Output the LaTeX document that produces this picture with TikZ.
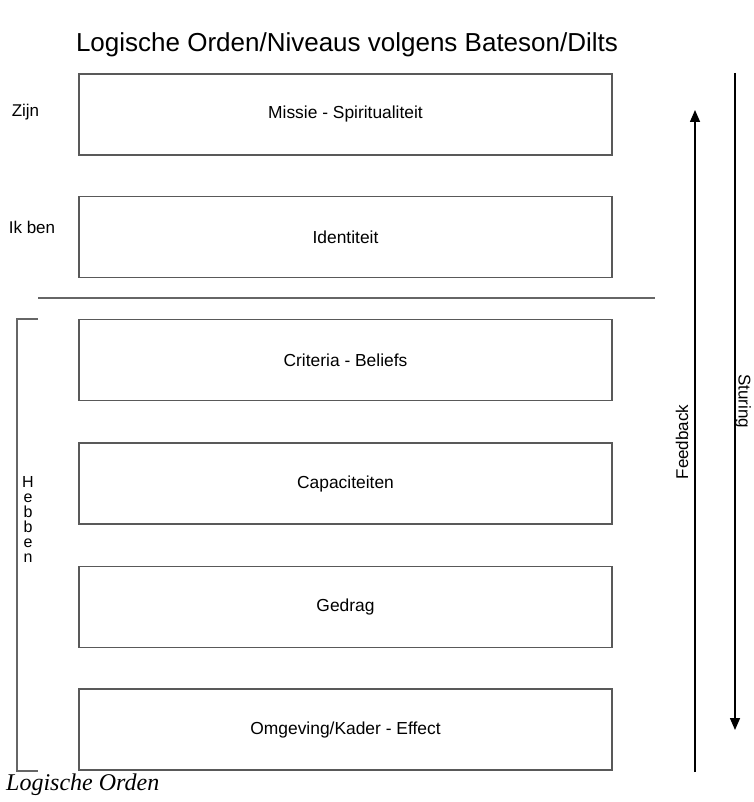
\documentclass[tikz,border=0pt]{standalone}
\usepackage{fontspec}
\setmainfont{Liberation Sans}
\newfontfamily\capserif{Liberation Serif}
\usetikzlibrary{arrows.meta}
\tikzset{
  levelbox/.style={draw=black!65, line width=1.4pt, minimum width=533pt, minimum height=81pt, inner sep=0pt,
    font=\fontsize{17.4}{20}\selectfont},
  sidelabel/.style={font=\fontsize{17}{20}\selectfont, inner sep=0pt},
  greyline/.style={draw=black!60, line width=1.4pt},
  flow/.style={draw=black, line width=1.5pt, -{Triangle[length=12pt,width=10pt]}},
}
\begin{document}
\begin{tikzpicture}[x=1pt,y=-1pt]
\path[use as bounding box] (0,0) rectangle (753,802);
\node[inner sep=0pt, anchor=base, font=\fontsize{26}{30}\selectfont] (title) at (347,52) {Logische Orden/Niveaus volgens Bateson/Dilts};

\node[levelbox] (b1) at (345.5,114.5) {Missie - Spiritualiteit};
\node[levelbox] (b2) at (345.5,237) {Identiteit};
\node[levelbox] (b3) at (345.5,360) {Criteria - Beliefs};
\node[levelbox] (b4) at (345.5,483.5) {Capaciteiten};
\node[levelbox] (b5) at (345.5,607) {Gedrag};
\node[levelbox] (b6) at (345.5,729.5) {Omgeving/Kader - Effect};

\node[sidelabel] (zijn) at (25.5,112) {Zijn};
\node[sidelabel] (ikben) at (32,227) {Ik ben};

\coordinate (dl) at (38,298);
\coordinate (dr) at (655,298);
\draw[greyline] (dl) -- (dr);

\coordinate (bt) at (38,319);
\coordinate (btc) at (17,319);
\coordinate (bbc) at (17,771);
\coordinate (bb) at (38,771);
\draw[greyline] (bt) -- (btc) -- (bbc) -- (bb);

\node[inner sep=0pt, align=center, font=\fontsize{16}{15}\selectfont, anchor=north] (hebben) at (28,476) {H\\e\\b\\b\\e\\n};

\coordinate (fbB) at (695,772);
\coordinate (fbT) at (695,110);
\draw[flow] (fbB) -- (fbT);
\coordinate (stT) at (735,73);
\coordinate (stB) at (735,730);
\draw[flow] (stT) -- (stB);

\node[sidelabel, rotate=90] (feedback) at (682,442) {Feedback};
\node[sidelabel, rotate=-90] (sturing) at (743,401) {Sturing};

\node[inner sep=0pt, anchor=base west, font=\capserif\itshape\fontsize{24}{28}\selectfont] (caption) at (6,790) {Logische Orden};
\end{tikzpicture}
\end{document}
